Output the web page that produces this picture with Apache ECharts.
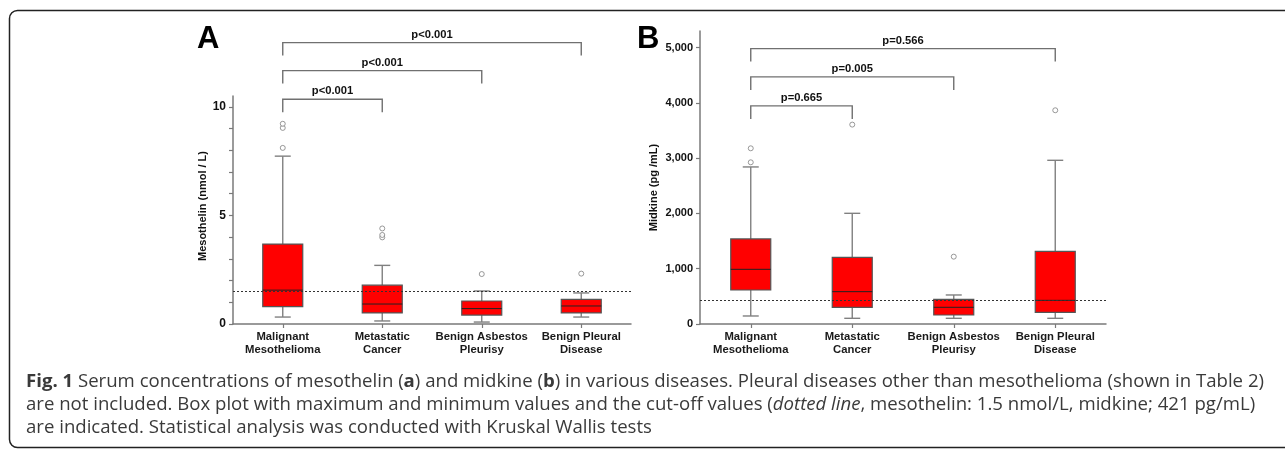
<!DOCTYPE html>
<html>
<head>
<meta charset="utf-8">
<script src="https://cdn.jsdelivr.net/npm/echarts@6/dist/echarts.min.js"></script>
<style>
html,body{margin:0;padding:0;background:#fff;}
#chart{width:1285px;height:451px;}
</style>
</head>
<body>
<div id="chart"></div>
<script>
// ---------- data ----------
const categories = ['Malignant\nMesothelioma', 'Metastatic\nCancer', 'Benign Asbestos\nPleurisy', 'Benign Pleural\nDisease'];

// [min, Q1, median, Q3, max]
const mesothelinBoxes = [
  [0.32, 0.80, 1.56, 3.68, 7.73],
  [0.14, 0.51, 0.92, 1.79, 2.70],
  [0.09, 0.41, 0.71, 1.06, 1.52],
  [0.32, 0.51, 0.83, 1.13, 1.43]
];
// [category index, value]
const mesothelinOutliers = [[0, 8.11], [0, 9.03], [0, 9.22], [1, 3.99], [1, 4.10], [1, 4.40], [2, 2.30], [3, 2.32]];
const mesothelinCutoff = 1.5;
// [from category, to category, bracket level, p label]
const mesothelinBrackets = [[0, 3, 12.96, 'p<0.001'], [0, 2, 11.67, 'p<0.001'], [0, 1, 10.35, 'p<0.001']];
const mesothelinTickLabels = [0, 5, 10];
const mesothelinTicks = [0, 1, 2, 3, 4, 5, 6, 7, 8, 9, 10];

const midkineBoxes = [
  [145, 615, 989, 1538, 2841],
  [103, 302, 585, 1206, 2002],
  [103, 163, 302, 446, 525],
  [103, 211, 428, 1315, 2961]
];
const midkineOutliers = [[0, 2925], [0, 3178], [1, 3607], [2, 1218], [3, 3866]];
const midkineCutoff = 421;
const midkineBrackets = [[0, 3, 4982, 'p=0.566'], [0, 2, 4470, 'p=0.005'], [0, 1, 3945, 'p=0.665']];
const midkineTickLabels = [0, 1000, 2000, 3000, 4000, 5000];

const captionLines = [
  '{b|Fig. 1} Serum concentrations of mesothelin ({b|a}) and midkine ({b|b}) in various diseases. Pleural diseases other than mesothelioma (shown in Table 2)',
  'are not included. Box plot with maximum and minimum values and the cut-off values ({i|dotted line}, mesothelin: 1.5 nmol/L, midkine; 421 pg/mL)',
  'are indicated. Statistical analysis was conducted with Kruskal Wallis tests'
];

// ---------- rendering ----------
const FONT = '"Liberation Sans", Arial, sans-serif';
const CAP_FONT = '"Open Sans", sans-serif';
const CAP_SIZE = 18.6;
const AXIS_GRAY = '#7a7a7a';

function boxRenderer(params, api) {
  const x = api.value(0);
  const lo = api.coord([x, api.value(1)]);
  const q1 = api.coord([x, api.value(2)]);
  const md = api.coord([x, api.value(3)]);
  const q3 = api.coord([x, api.value(4)]);
  const hi = api.coord([x, api.value(5)]);
  const cx = lo[0], bw = 40, cw = 16;
  const wStyle = {stroke: '#808080', lineWidth: 1.4};
  return {
    type: 'group',
    children: [
      {type: 'line', shape: {x1: cx, y1: hi[1], x2: cx, y2: q3[1]}, style: wStyle},
      {type: 'line', shape: {x1: cx, y1: q1[1], x2: cx, y2: lo[1]}, style: wStyle},
      {type: 'line', shape: {x1: cx - cw / 2, y1: hi[1], x2: cx + cw / 2, y2: hi[1]}, style: wStyle},
      {type: 'line', shape: {x1: cx - cw / 2, y1: lo[1], x2: cx + cw / 2, y2: lo[1]}, style: wStyle},
      {type: 'rect', shape: {x: cx - bw / 2, y: q3[1], width: bw, height: q1[1] - q3[1]},
        style: {fill: '#ff0000', stroke: '#555', lineWidth: 1.2}},
      {type: 'line', shape: {x1: cx - bw / 2, y1: md[1], x2: cx + bw / 2, y2: md[1]},
        style: {stroke: '#222', lineWidth: 1}}
    ]
  };
}

function bracketRenderer(labels) {
  return function (params, api) {
    const a = api.coord([api.value(0), api.value(2)]);
    const b = api.coord([api.value(1), api.value(2)]);
    const leg = 13;
    const st = {stroke: '#707070', lineWidth: 1.4, fill: null};
    return {
      type: 'group',
      children: [
        {type: 'polyline', shape: {points: [[a[0], a[1] + leg], [a[0], a[1]], [b[0], b[1]], [b[0], b[1] + leg]]}, style: st},
        {type: 'text', style: {text: labels[params.dataIndex], x: (a[0] + b[0]) / 2, y: a[1] - 8,
          align: 'center', verticalAlign: 'middle', font: 'bold 11.2px ' + FONT, fill: '#111'}}
      ]
    };
  };
}

function boxData(arr) { return arr.map((d, i) => [i].concat(d)); }

function xAxisCfg(gi) {
  return {
    gridIndex: gi, type: 'category', data: categories, boundaryGap: true,
    axisLine: {show: true, lineStyle: {color: AXIS_GRAY, width: 1.5}},
    axisTick: {show: true, alignWithLabel: true, length: 4, lineStyle: {color: AXIS_GRAY, width: 1.2}},
    axisLabel: {interval: 0, fontFamily: FONT, fontWeight: 'bold', fontSize: 11.3, color: '#1a1a1a', lineHeight: 13, margin: 6},
    splitLine: {show: false}
  };
}

const chart = echarts.init(document.getElementById('chart'), null, {renderer: 'canvas'});

const caption = captionLines.map((t, i) => ({
  type: 'text', x: 26, y: 381.5 + i * 23,
  style: {
    text: t, x: 0, y: 0, verticalAlign: 'middle', align: 'left',
    font: CAP_SIZE + 'px ' + CAP_FONT, fill: '#3a3a3a',
    rich: {
      b: {fontFamily: CAP_FONT, fontSize: CAP_SIZE, fontWeight: 'bold', color: '#222'},
      i: {fontFamily: CAP_FONT, fontSize: CAP_SIZE, fontStyle: 'italic', color: '#3a3a3a'}
    }
  }
}));

chart.setOption({
  animation: false,
  backgroundColor: '#fff',
  grid: [
    {left: 233, top: 96, width: 398, height: 228},
    {left: 700, top: 31, width: 406, height: 293}
  ],
  xAxis: [xAxisCfg(0), xAxisCfg(1)],
  yAxis: [
    {
      gridIndex: 0, type: 'value', min: 0, max: 10.5,
      name: 'Mesothelin (nmol / L)', nameLocation: 'middle', nameGap: 24,
      nameTextStyle: {fontFamily: FONT, fontWeight: 'bold', fontSize: 11, color: '#111', padding: [0, 0, 0, 8]},
      axisLine: {show: true, lineStyle: {color: AXIS_GRAY, width: 1.5}},
      axisTick: {show: true, length: 4, customValues: mesothelinTicks, lineStyle: {color: AXIS_GRAY, width: 1.2}},
      axisLabel: {customValues: mesothelinTickLabels, fontFamily: FONT, fontWeight: 'bold', fontSize: 12, color: '#111', margin: 7},
      splitLine: {show: false}
    },
    {
      gridIndex: 1, type: 'value', min: 0, max: 5300,
      name: 'Midkine (pg /mL)', nameLocation: 'middle', nameGap: 41,
      nameTextStyle: {fontFamily: FONT, fontWeight: 'bold', fontSize: 11, color: '#111', padding: [0, 20, 0, 0]},
      axisLine: {show: true, lineStyle: {color: AXIS_GRAY, width: 1.5}},
      axisTick: {show: true, length: 4, customValues: midkineTickLabels, lineStyle: {color: AXIS_GRAY, width: 1.2}},
      axisLabel: {customValues: midkineTickLabels, fontFamily: FONT, fontWeight: 'bold', fontSize: 11, color: '#111', margin: 7,
        formatter: v => Number(v).toLocaleString('en-US')},
      splitLine: {show: false}
    }
  ],
  series: [
    {
      type: 'custom', xAxisIndex: 0, yAxisIndex: 0, renderItem: boxRenderer, clip: false,
      encode: {x: 0, y: [1, 2, 3, 4, 5]}, data: boxData(mesothelinBoxes), z: 2
    },
    {
      type: 'scatter', xAxisIndex: 0, yAxisIndex: 0, data: mesothelinOutliers, symbol: 'circle', symbolSize: 5,
      itemStyle: {color: '#fff', borderColor: '#808080', borderWidth: 1}, z: 3,
      markLine: {silent: true, symbol: ['none', 'none'], label: {show: false},
        lineStyle: {type: [2, 2], color: '#333', width: 1}, data: [{yAxis: mesothelinCutoff}]}
    },
    {
      type: 'custom', xAxisIndex: 0, yAxisIndex: 0, renderItem: bracketRenderer(mesothelinBrackets.map(d => d[3])), clip: false,
      encode: {x: 0, y: 2}, data: mesothelinBrackets.map(d => [d[0], d[1], d[2]])
    },
    {
      type: 'custom', xAxisIndex: 1, yAxisIndex: 1, renderItem: boxRenderer, clip: false,
      encode: {x: 0, y: [1, 2, 3, 4, 5]}, data: boxData(midkineBoxes), z: 2
    },
    {
      type: 'scatter', xAxisIndex: 1, yAxisIndex: 1, data: midkineOutliers, symbol: 'circle', symbolSize: 5,
      itemStyle: {color: '#fff', borderColor: '#808080', borderWidth: 1}, z: 3,
      markLine: {silent: true, symbol: ['none', 'none'], label: {show: false},
        lineStyle: {type: [2, 2], color: '#333', width: 1}, data: [{yAxis: midkineCutoff}]}
    },
    {
      type: 'custom', xAxisIndex: 1, yAxisIndex: 1, renderItem: bracketRenderer(midkineBrackets.map(d => d[3])), clip: false,
      encode: {x: 0, y: 2}, data: midkineBrackets.map(d => [d[0], d[1], d[2]])
    }
  ],
  graphic: [
    {type: 'rect', shape: {x: 9.5, y: 10.5, width: 1300, height: 437, r: 8},
      style: {fill: null, stroke: '#222', lineWidth: 1.5}, silent: true},
    {type: 'text', x: 197, y: 39, style: {text: 'A', font: 'bold 31px ' + FONT, fill: '#000', verticalAlign: 'middle', align: 'left'}},
    {type: 'text', x: 637, y: 39, style: {text: 'B', font: 'bold 31px ' + FONT, fill: '#000', verticalAlign: 'middle', align: 'left'}}
  ].concat(caption)
});
</script>
</body>
</html>
